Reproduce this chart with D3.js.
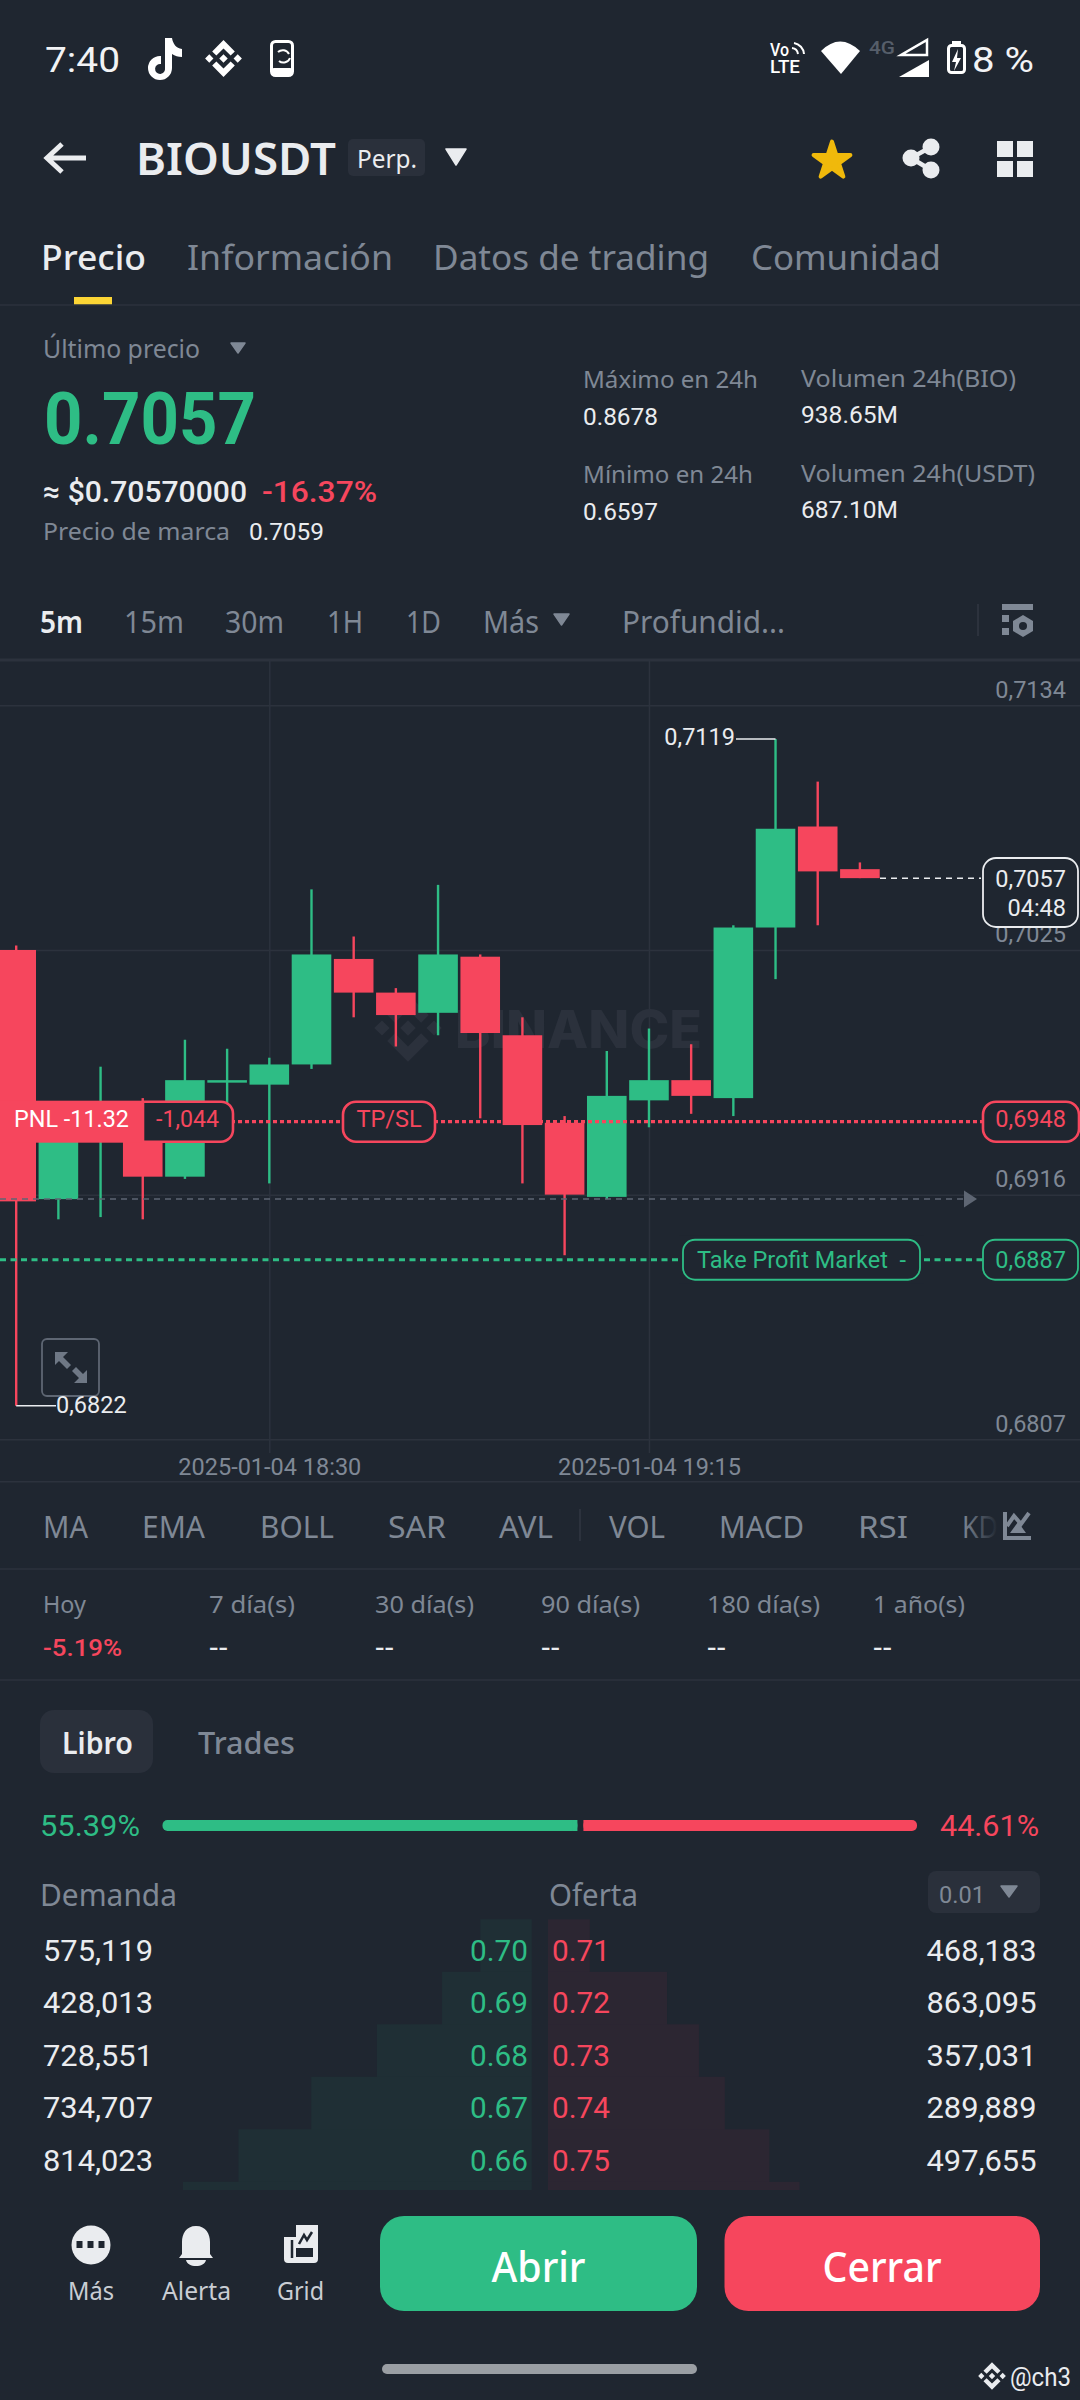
<!DOCTYPE html>
<html>
<head>
<meta charset="utf-8">
<script src="https://cdn.jsdelivr.net/npm/d3@7"></script>
<style>
  html, body { margin: 0; padding: 0; background: #1f2630; }
  svg { display: block; }
</style>
</head>
<body>
<svg id="chart" width="1080" height="2400"></svg>
<script>
// 5m candles, 18:00 to 19:40
const startTime = Date.UTC(2025, 0, 4, 18, 0);
const opens  = [0.7025, 0.6914, 0.6949, 0.6954, 0.6924, 0.6966, 0.6965, 0.6974, 0.7021, 0.7006, 0.6997, 0.7022, 0.6987, 0.6948, 0.6915, 0.6958, 0.6967, 0.6959, 0.7035, 0.7080, 0.7061];
const highs  = [0.7027, 0.6954, 0.6973, 0.6959, 0.6985, 0.6981, 0.6977, 0.7052, 0.7031, 0.7008, 0.7054, 0.7023, 0.6995, 0.6951, 0.6980, 0.6990, 0.6983, 0.7036, 0.7119, 0.7100, 0.7064];
const lows   = [0.6822, 0.6905, 0.6906, 0.6905, 0.6923, 0.6951, 0.6921, 0.6972, 0.6995, 0.6982, 0.6987, 0.6950, 0.6921, 0.6889, 0.6914, 0.6946, 0.6952, 0.6951, 0.7012, 0.7036, 0.7057];
const closes = [0.6913, 0.6949, 0.6953, 0.6924, 0.6967, 0.6967, 0.6974, 0.7023, 0.7006, 0.6996, 0.7023, 0.6988, 0.6947, 0.6916, 0.6960, 0.6967, 0.6960, 0.7035, 0.7079, 0.7060, 0.7057];

const priceTicks = [0.7134, 0.7025, 0.6916, 0.6807];
const dateTicks = [Date.UTC(2025, 0, 4, 18, 30), Date.UTC(2025, 0, 4, 19, 15)];
const lastPrice = 0.7057;
const entryPrice = 0.69485;
const takeProfit = 0.6887;
const markLine = 0.6914;

// order book, the sixth row is cut off in the picture
const bidPrices = ["0.70", "0.69", "0.68", "0.67", "0.66"];
const askPrices = ["0.71", "0.72", "0.73", "0.74", "0.75"];
const bidQty = [575119, 428013, 728551, 734707, 814023, 620000];
const askQty = [468183, 863095, 357031, 289889, 497655, 338000];
const bookRatio = [55.39, 44.61];

const timeframes = ["15m", "30m", "1H", "1D"];
const indicators = ["MA", "EMA", "BOLL", "SAR", "AVL", "VOL", "MACD", "RSI"];
const periods = ["Hoy", "7 día(s)", "30 día(s)", "90 día(s)", "180 día(s)", "1 año(s)"];
const periodValues = ["-5.19%", "--", "--", "--", "--", "--"];

const BG = "#1f2630", GREEN = "#2ebd85", RED = "#f6465d", WHITE = "#eaecef", GREY = "#7f8895", LINE = "#2c323d", PANEL = "#2a303b";
const UI = "'Noto Sans', sans-serif", NUM = "Roboto, sans-serif";

const svg = d3.select("#chart");
svg.append("rect").attr("width", 1080).attr("height", 2400).attr("fill", BG);

function label(x, y, str, o = {}) {
  const t = svg.append("text")
    .attr("x", x).attr("y", y)
    .attr("font-family", o.font || UI)
    .attr("font-size", o.size || 24)
    .attr("font-weight", o.weight || 400)
    .attr("fill", o.fill || GREY)
    .attr("text-anchor", o.anchor || "start")
    .text(str);
  if (o.w) t.attr("textLength", o.w).attr("lengthAdjust", "spacingAndGlyphs");
  return t;
}
function hline(y, x1 = 0, x2 = 1080, w = 1.5) {
  svg.append("line").attr("x1", x1).attr("x2", x2).attr("y1", y).attr("y2", y).attr("stroke", LINE).attr("stroke-width", w);
}
function tri(x1, x2, y1, y2, fill) {
  svg.append("path").attr("d", `M${x1} ${y1}H${x2}L${(x1 + x2) / 2} ${y2}Z`).attr("fill", fill).attr("stroke", fill).attr("stroke-linejoin", "round").attr("stroke-width", 1.5);
}
function box(x, y, w, h, r, fill, stroke, sw) {
  return svg.append("rect").attr("x", x).attr("y", y).attr("width", w).attr("height", h).attr("rx", r)
    .attr("fill", fill).attr("stroke", stroke || "none").attr("stroke-width", sw || 0);
}
function binanceLogo(cx, cy, s, fill) {
  svg.append("path")
    .attr("transform", `translate(${cx - 63 * s},${cy - 63 * s}) scale(${s})`)
    .attr("fill", fill)
    .attr("d", "M38.73 53.2L63 28.93l24.28 24.28 14.12-14.12L63 .68 24.61 39.07zM.67 63l14.12-14.12L28.9 63 14.79 77.12zM38.73 72.79L63 97.07l24.27-24.28 14.12 14.12L63 125.32 24.61 86.93zM97.09 63l14.12-14.12L125.33 63l-14.12 14.12zM77.32 63L63 48.68 48.68 63 63 77.32z");
}

// status bar
label(45, 72, "7:40", { font: NUM, size: 35, fill: "#f2f3f5", w: 75 });
svg.append("path").attr("fill", "#fff").attr("d", "M165 38h7c1 6 4 10 10 11v8c-4 0-7-1-10-3v14a12 12 0 1 1-12-12l1 0v8a5 5 0 1 0 4 4z");
binanceLogo(223.5, 58.5, 0.295, "#fff");
box(271.5, 41.5, 21, 34, 4, "none", "#fff", 3);
svg.append("rect").attr("x", 271).attr("y", 68).attr("width", 22).attr("height", 8).attr("rx", 3).attr("fill", "#fff");
svg.append("path").attr("fill", "none").attr("stroke", "#fff").attr("stroke-width", 2).attr("d", "M278 52a7 7 0 0 1 11 2M290 58a7 7 0 0 1-11 3");
label(770, 56, "Vo", { font: NUM, size: 18, weight: 500, fill: "#fff", w: 19 });
label(770, 73, "LTE", { font: NUM, size: 18, weight: 500, fill: "#fff", w: 30 });
svg.append("path").attr("fill", "none").attr("stroke", "#fff").attr("stroke-width", 2).attr("d", "M792 48a7 7 0 0 1 6 6M794 43a12 12 0 0 1 10 11");
svg.append("path").attr("fill", "#fff").attr("d", "M821 51Q840 32 860 51L841 74Z");
label(869, 54, "4G", { font: NUM, size: 19, weight: 500, fill: "#565e6a", w: 26 });
svg.append("path").attr("fill", "none").attr("stroke", "#fff").attr("stroke-width", 2.5).attr("d", "M927 40V55H901Z");
svg.append("path").attr("fill", "#fff").attr("d", "M929 60V77H899Z");
box(948.5, 45.5, 16, 27, 3, "none", "#fff", 3);
svg.append("rect").attr("x", 952).attr("y", 41).attr("width", 9).attr("height", 5).attr("fill", "#fff");
svg.append("path").attr("fill", "#fff").attr("d", "M958 49l-6 13h4l-2 9 7-13h-4z");
label(972, 72, "8 %", { font: NUM, size: 35, fill: "#f2f3f5", w: 62 });

// header
svg.append("path").attr("fill", "none").attr("stroke", WHITE).attr("stroke-width", 5).attr("d", "M86 158H49M62 144L47 158L62 172");
label(136, 175, "BIOUSDT", { size: 45, weight: 600, fill: WHITE, w: 200 });
box(348, 139, 77, 37, 5, PANEL);
label(357, 168, "Perp.", { size: 26, fill: WHITE, w: 60 });
tri(446, 466, 149, 165, WHITE);
svg.append("path").attr("transform", "translate(832,161)").attr("d", d3.symbol().type(d3.symbolStar).size(420)()).attr("fill", "#f0b90b").attr("stroke", "#f0b90b").attr("stroke-width", 4).attr("stroke-linejoin", "round");
svg.append("path").attr("fill", "none").attr("stroke", WHITE).attr("stroke-width", 4.5).attr("d", "M931 147L911 158L931 170");
[[911, 158], [931, 147], [931, 170]].forEach(c => svg.append("circle").attr("cx", c[0]).attr("cy", c[1]).attr("r", 8.5).attr("fill", WHITE));
[[997, 141], [1017, 141], [997, 161], [1017, 161]].forEach(c => svg.append("rect").attr("x", c[0]).attr("y", c[1]).attr("width", 16).attr("height", 16).attr("fill", WHITE));

// tabs
label(41, 270, "Precio", { size: 35, weight: 500, fill: WHITE, w: 105 });
label(187, 270, "Información", { size: 35, w: 206 });
label(433, 270, "Datos de trading", { size: 35, w: 276 });
label(751, 270, "Comunidad", { size: 35, w: 190 });
svg.append("rect").attr("x", 74).attr("y", 297).attr("width", 38).attr("height", 8).attr("fill", "#fcd535");
hline(305);

// price block
label(43, 358, "Último precio", { size: 25, w: 157 });
tri(231, 245, 343, 353, GREY);
label(44, 444, "0.7057", { font: NUM, size: 73, weight: 700, fill: GREEN, w: 212 });
label(43, 502, "≈ $0.70570000", { font: NUM, size: 30, weight: 500, fill: WHITE, w: 204 });
label(262, 502, "-16.37%", { font: NUM, size: 30, weight: 500, fill: RED, w: 115 });
label(43, 540, "Precio de marca", { size: 24, w: 187 });
label(249, 540, "0.7059", { font: NUM, size: 24, fill: WHITE, w: 75 });
label(583, 388, "Máximo en 24h", { size: 24, w: 175 });
label(583, 425, "0.8678", { font: NUM, size: 24, fill: WHITE, w: 75 });
label(583, 483, "Mínimo en 24h", { size: 24, w: 170 });
label(583, 520, "0.6597", { font: NUM, size: 24, fill: WHITE, w: 75 });
label(801, 387, "Volumen 24h(BIO)", { size: 24, w: 215 });
label(801, 423, "938.65M", { font: NUM, size: 24, fill: WHITE, w: 97 });
label(801, 482, "Volumen 24h(USDT)", { size: 24, w: 234 });
label(801, 518, "687.10M", { font: NUM, size: 24, fill: WHITE, w: 97 });

// timeframe row
label(40, 633, "5m", { size: 31, weight: 600, fill: WHITE, w: 43 });
const tfX = [124, 225, 327, 406], tfW = [60, 59, 36, 35];
timeframes.forEach((d, i) => label(tfX[i], 633, d, { size: 31, w: tfW[i] }));
label(483, 633, "Más", { size: 31, w: 56 });
tri(554, 569, 614, 625, GREY);
label(622, 633, "Profundid...", { size: 31, w: 163 });
svg.append("line").attr("x1", 978).attr("x2", 978).attr("y1", 604).attr("y2", 636).attr("stroke", LINE).attr("stroke-width", 2);
svg.append("rect").attr("x", 1002).attr("y", 604).attr("width", 31).attr("height", 6).attr("fill", GREY);
svg.append("rect").attr("x", 1002).attr("y", 615).attr("width", 7).attr("height", 7).attr("fill", GREY);
svg.append("rect").attr("x", 1002).attr("y", 628).attr("width", 7).attr("height", 7).attr("fill", GREY);
svg.append("path").attr("fill", GREY).attr("d", "M1023 615l10 6v10l-10 6-10-6v-10z");
svg.append("circle").attr("cx", 1023).attr("cy", 626).attr("r", 4).attr("fill", BG);

// chart
const x = d3.scaleUtc().domain([startTime, d3.utcMinute.offset(startTime, 100)]).range([16.2, 859.9]);
const y = d3.scaleLinear().domain([0.6807, 0.7134]).range([1439.3, 705.3]);
const candleWidth = 39.6;

hline(660, 0, 1080, 3);

const yAxis = d3.axisRight(y).tickValues(priceTicks).tickSize(1080)
  .tickFormat(d => d3.format(".4f")(d).replace(".", ","));
const yG = svg.append("g").call(yAxis);
yG.select(".domain").remove();
yG.selectAll("line").attr("stroke", LINE).attr("stroke-width", 1.5);
yG.selectAll("text").attr("x", 1066).attr("dy", -8).attr("text-anchor", "end")
  .attr("font-family", NUM).attr("font-size", 23.5).attr("fill", GREY);

const xAxis = d3.axisBottom(x).tickValues(dateTicks).tickSize(793)
  .tickFormat(d3.utcFormat("%Y-%m-%d %H:%M"));
const xG = svg.append("g").attr("transform", "translate(0,660)").call(xAxis);
xG.select(".domain").remove();
xG.selectAll("line").attr("stroke", LINE).attr("stroke-width", 1.5);
xG.selectAll("text").attr("y", 815).attr("dy", 0)
  .attr("font-family", NUM).attr("font-size", 23.5).attr("fill", GREY);
hline(1481.7);

// watermark
binanceLogo(408, 1028, 0.54, "#2b313c");
label(455, 1048, "BINANCE", { font: "Inter, sans-serif", size: 52, weight: 800, fill: "#2b313c", w: 247 });

const candles = opens.map((o, i) => ({
  t: d3.utcMinute.offset(startTime, 5 * i), o, h: highs[i], l: lows[i], c: closes[i]
}));
const candleColor = d => d.c >= d.o ? GREEN : RED;

svg.append("g").selectAll("line").data(candles).join("line")
  .attr("x1", d => x(d.t)).attr("x2", d => x(d.t))
  .attr("y1", d => y(d.h)).attr("y2", d => y(d.l))
  .attr("stroke", candleColor).attr("stroke-width", 2.4);
svg.append("g").selectAll("rect").data(candles).join("rect")
  .attr("x", d => x(d.t) - candleWidth / 2)
  .attr("y", d => y(Math.max(d.o, d.c)))
  .attr("width", candleWidth)
  .attr("height", d => Math.max(Math.abs(y(d.o) - y(d.c)), 2.5))
  .attr("fill", candleColor);

// high / low callouts
const hi = candles[18], lo = candles[0];
svg.append("line").attr("x1", 736).attr("x2", x(hi.t)).attr("y1", y(hi.h)).attr("y2", y(hi.h)).attr("stroke", WHITE).attr("stroke-width", 1.5);
label(735, 745, "0,7119", { font: NUM, size: 23.5, fill: WHITE, anchor: "end" });
svg.append("line").attr("x1", x(lo.t)).attr("x2", 56).attr("y1", y(lo.l)).attr("y2", y(lo.l)).attr("stroke", WHITE).attr("stroke-width", 1.5);

// mark line
svg.append("line").attr("x1", 0).attr("x2", 964).attr("y1", y(markLine)).attr("y2", y(markLine))
  .attr("stroke", "#5e6673").attr("stroke-width", 1.5).attr("stroke-dasharray", "6 5");
svg.append("path").attr("fill", "#5e6673").attr("d", `M964 ${y(markLine) - 8.5}L977 ${y(markLine)}L964 ${y(markLine) + 8.5}Z`);

// take profit line
const tpY = y(takeProfit);
svg.append("line").attr("x1", 0).attr("x2", 983).attr("y1", tpY).attr("y2", tpY)
  .attr("stroke", GREEN).attr("stroke-width", 2.8).attr("stroke-dasharray", "6 4.5");
box(679, tpY - 24, 245, 48, 0, BG);
box(683, tpY - 20, 237, 40, 12, BG, GREEN, 1.8);
label(697, tpY + 8, "Take Profit Market\u00a0\u00a0-", { font: NUM, size: 23.5, fill: GREEN, w: 209 });
box(983, tpY - 20, 95, 40, 12, BG, GREEN, 1.8);
label(1066, tpY + 8, "0,6887", { font: NUM, size: 23.5, fill: GREEN, anchor: "end" });

// position line
const posY = y(entryPrice);
svg.append("line").attr("x1", 0).attr("x2", 983).attr("y1", posY).attr("y2", posY)
  .attr("stroke", RED).attr("stroke-width", 3.2).attr("stroke-dasharray", "4 3");
svg.append("rect").attr("x", 0).attr("y", posY - 21).attr("width", 143).attr("height", 42).attr("fill", RED);
label(14, posY + 5.5, "PNL -11.32", { font: NUM, size: 23.5, fill: "#fff", w: 115 });
svg.append("path").attr("fill", BG).attr("stroke", RED).attr("stroke-width", 2.6)
  .attr("d", `M143 ${posY - 20}H221a12 12 0 0 1 12 12V${posY + 8}a12 12 0 0 1-12 12H143Z`);
label(156, posY + 5.5, "-1,044", { font: NUM, size: 23.5, fill: RED, w: 63 });
box(343, posY - 20, 92, 40, 13, BG, RED, 2.6);
label(389, posY + 5.5, "TP/SL", { font: NUM, size: 23.5, fill: RED, anchor: "middle" });
box(983, posY - 20, 96, 40, 13, BG, RED, 2.6);
label(1066, posY + 5.5, "0,6948", { font: NUM, size: 23.5, fill: RED, anchor: "end" });

// last price tag
const lastY = y(lastPrice);
svg.append("line").attr("x1", 880).attr("x2", 981).attr("y1", lastY).attr("y2", lastY)
  .attr("stroke", WHITE).attr("stroke-width", 1.5).attr("stroke-dasharray", "6 5");
box(983, 858, 95, 69, 13, BG, WHITE, 1.8);
label(1066, 887, "0,7057", { font: NUM, size: 23.5, fill: WHITE, anchor: "end" });
label(1066, 916, "04:48", { font: NUM, size: 23.5, fill: WHITE, anchor: "end" });

// expand button, drawn above the low callout line
box(42, 1339, 57, 57, 5, "none", "#5e6673", 1.8);
svg.append("path").attr("fill", "#6f7885").attr("d", "M55 1352H68L63 1357L71 1365L67 1369L59 1361L55 1365ZM87 1383H74L79 1378L72 1371L76 1367L83 1374L87 1370Z");
label(56, 1413, "0,6822", { font: NUM, size: 23.5, fill: WHITE });

// indicators
const indX = [43, 142, 260, 388, 499, 609, 719, 858], indW = [45, 63, 74, 58, 54, 56, 85, 50];
indicators.forEach((d, i) => label(indX[i], 1538, d, { size: 30, w: indW[i] }));
svg.append("line").attr("x1", 580).attr("x2", 580).attr("y1", 1509).attr("y2", 1541).attr("stroke", LINE).attr("stroke-width", 2);
const fade = svg.append("defs").append("linearGradient").attr("id", "kdFade");
fade.append("stop").attr("offset", 0).attr("stop-color", GREY);
fade.append("stop").attr("offset", 1).attr("stop-color", BG);
label(962, 1538, "KD", { size: 30, fill: "url(#kdFade)", w: 36 });
svg.append("path").attr("fill", "none").attr("stroke", GREY).attr("stroke-width", 4).attr("d", "M1005 1512V1538H1031M1007 1526L1014 1516L1021 1524L1029 1513");
svg.append("path").attr("fill", GREY).attr("d", "M1010 1533L1018 1522L1026 1533Z");
hline(1569);

// change by period
const perX = [43, 209, 375, 541, 707, 873], perW = [43, 86, 99, 99, 113, 92];
periods.forEach((d, i) => label(perX[i], 1613, d, { size: 24, w: perW[i] }));
periodValues.forEach((d, i) => label(perX[i], 1656, d, { font: NUM, size: 23, fill: i ? WHITE : RED, weight: 500, w: i ? 19 : 79 }));
hline(1680);

// book tabs
box(40, 1710, 113, 63, 14, PANEL);
label(62, 1754, "Libro", { size: 30, weight: 600, fill: WHITE, w: 71 });
label(198, 1754, "Trades", { size: 30, weight: 500, w: 97 });

// bid / ask ratio bar
const ratioX = d3.scaleLinear().domain([0, 100]).range([162.5, 917]);
label(40, 1836, bookRatio[0].toFixed(2) + "%", { font: NUM, size: 29.5, fill: GREEN, w: 100 });
label(1039, 1836, bookRatio[1].toFixed(2) + "%", { font: NUM, size: 29.5, fill: RED, anchor: "end", w: 99 });
svg.append("rect").attr("x", ratioX(0)).attr("y", 1820).attr("width", ratioX(bookRatio[0]) - ratioX(0) - 3).attr("height", 11).attr("rx", 5).attr("fill", GREEN);
svg.append("rect").attr("x", ratioX(bookRatio[0]) + 3).attr("y", 1820).attr("width", ratioX(100) - ratioX(bookRatio[0]) - 3).attr("height", 11).attr("rx", 5).attr("fill", RED);
svg.append("rect").attr("x", ratioX(bookRatio[0]) - 8).attr("y", 1820).attr("width", 5).attr("height", 11).attr("fill", GREEN);
svg.append("rect").attr("x", ratioX(bookRatio[0]) + 3).attr("y", 1820).attr("width", 5).attr("height", 11).attr("fill", RED);

// order book
label(40, 1906, "Demanda", { size: 31, w: 137 });
label(549, 1906, "Oferta", { size: 31, w: 89 });
box(928, 1871, 112, 42, 8, PANEL);
label(939, 1903, "0.01", { font: NUM, size: 24, w: 46 });
tri(1001, 1017, 1886, 1897, GREY);

const depthW = d3.scaleLinear().domain([0, 1e6]).range([0, 89.4]);
const rowY = d3.scaleBand().domain(d3.range(6)).range([1919.3, 2234.3]);
const bidDepth = Array.from(d3.cumsum(bidQty));
const askDepth = Array.from(d3.cumsum(askQty));
const rowH = d => Math.min(rowY.bandwidth() + 1, 2190 - rowY(d.i));

svg.append("g").selectAll("rect").data(bidDepth.map((v, i) => ({ v, i }))).join("rect")
  .attr("x", d => 531.7 - depthW(d.v)).attr("y", d => rowY(d.i))
  .attr("width", d => depthW(d.v)).attr("height", rowH).attr("fill", "#1f2f35");
svg.append("g").selectAll("rect").data(askDepth.map((v, i) => ({ v, i }))).join("rect")
  .attr("x", 548).attr("y", d => rowY(d.i))
  .attr("width", d => depthW(d.v)).attr("height", rowH).attr("fill", "#2c2632");

const fmtQty = d3.format(",");
bidPrices.forEach((p, i) => {
  const b = rowY(i) + 41.4;
  label(43, b, fmtQty(bidQty[i]), { font: NUM, size: 30, fill: WHITE, w: 110 });
  label(528, b, p, { font: NUM, size: 30, fill: GREEN, anchor: "end", w: 58 });
  label(552, b, askPrices[i], { font: NUM, size: 30, fill: RED, w: 58 });
  label(1036.5, b, fmtQty(askQty[i]), { font: NUM, size: 30, fill: WHITE, anchor: "end", w: 110 });
});

// bottom bar
svg.append("circle").attr("cx", 91).attr("cy", 2245).attr("r", 19.5).attr("fill", WHITE);
[80, 91, 102].forEach(cx => svg.append("rect").attr("x", cx - 3.5).attr("y", 2241).attr("width", 6).attr("height", 7).attr("fill", BG));
svg.append("path").attr("fill", WHITE).attr("d", "M196 2226c-10 0-14 8-14 16v12l-3 4h34l-3-4v-12c0-8-4-16-14-16zM186 2260h20c-1 4-5 6-10 6s-9-2-10-6z");
svg.append("path").attr("fill", WHITE).attr("d", "M296 2225h22v34q0 4-4 4h-26q-4 0-4-4v-22h12z");
svg.append("path").attr("fill", "none").attr("stroke", BG).attr("stroke-width", 2.5).attr("d", "M299 2244l5-9 3 5 5-8M292 2240v18");
svg.append("rect").attr("x", 296).attr("y", 2248).attr("width", 17).attr("height", 9).attr("fill", BG);
label(91, 2300, "Más", { size: 25, fill: "#c9cdd3", anchor: "middle", w: 46 });
label(196.5, 2300, "Alerta", { size: 25, fill: "#c9cdd3", anchor: "middle", w: 69 });
label(300.5, 2300, "Grid", { size: 25, fill: "#c9cdd3", anchor: "middle", w: 47 });

box(380, 2216, 317, 95, 24, GREEN);
label(538.5, 2282, "Abrir", { size: 41, weight: 500, fill: "#fff", anchor: "middle", w: 94 });
box(724.5, 2216, 315.5, 95, 24, RED);
label(882, 2282, "Cerrar", { size: 41, weight: 500, fill: "#fff", anchor: "middle", w: 119 });

box(382, 2364, 315, 10, 5, "#9a9ea3");
binanceLogo(992, 2376, 0.222, "#eaecef");
label(1010, 2386, "@ch3", { font: NUM, size: 26, fill: "#eaecef", w: 61 });
</script>
</body>
</html>
